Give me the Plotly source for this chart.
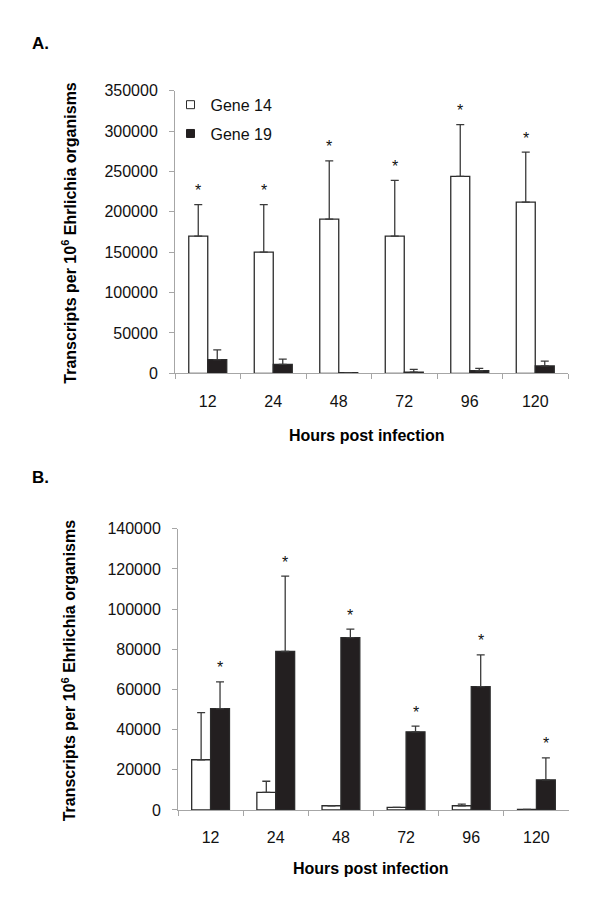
import plotly.graph_objects as go

hours = ["12", "24", "48", "72", "96", "120"]

# Panel A
a_gene14 = [170000, 150000, 191000, 170000, 244000, 212000]
a_gene14_err = [39000, 59000, 72000, 69000, 64000, 62000]
a_gene19 = [17000, 11000, 800, 1500, 3200, 9200]
a_gene19_err = [12000, 6700, 0, 3400, 2900, 5800]

# Panel B
b_gene14 = [25000, 8800, 2100, 1300, 2100, 300]
b_gene14_err = [23500, 5500, 0, 0, 800, 0]
b_gene19 = [50500, 78900, 85800, 38900, 61400, 15000]
b_gene19_err = [13300, 37500, 4200, 2800, 15800, 10900]

FONT = "Liberation Sans, Arial, sans-serif"
DARK = "#231f20"
EDGE = "#2b2b2b"
AXIS = "#a6a6a6"

W, H = 600, 907


def px(x):
    return x / W


def py(y):
    return 1 - y / H


fig = go.Figure()


def add_bars(vals, errs, fill, name, xa, ya):
    fig.add_trace(go.Bar(
        x=hours, y=vals, name=name, showlegend=False,
        marker=dict(color=fill, line=dict(color=EDGE, width=1.3)),
        error_y=dict(type="data", array=errs, arrayminus=[0] * len(errs),
                     symmetric=False, color="#3a3a3a", thickness=1.3, width=4),
        xaxis=xa, yaxis=ya,
    ))


add_bars(a_gene14, a_gene14_err, "white", "Gene 14", "x", "y")
add_bars(a_gene19, a_gene19_err, DARK, "Gene 19", "x", "y")
add_bars(b_gene14, b_gene14_err, "white", "Gene 14", "x2", "y2")
add_bars(b_gene19, b_gene19_err, DARK, "Gene 19", "x2", "y2")

# legend entries (small square symbols like the original)
fig.add_trace(go.Scatter(x=[None], y=[None], mode="markers", name="Gene 14",
                         legendgroup="g14",
                         marker=dict(symbol="square", size=8, color="white",
                                     line=dict(color=EDGE, width=1))))
fig.add_trace(go.Scatter(x=[None], y=[None], mode="markers", name="Gene 19",
                         legendgroup="g19",
                         marker=dict(symbol="square", size=8, color=DARK,
                                     line=dict(color=DARK, width=1))))

off = 0.145
annotations = []
for i in range(len(hours)):
    annotations.append(dict(x=i - off, y=a_gene14[i] + a_gene14_err[i], xref="x", yref="y",
                            text="*", showarrow=False, yanchor="middle", yshift=14,
                            font=dict(family=FONT, size=16, color="#111")))
    annotations.append(dict(x=i + off, y=b_gene19[i] + b_gene19_err[i], xref="x2", yref="y2",
                            text="*", showarrow=False, yanchor="middle", yshift=14,
                            font=dict(family=FONT, size=16, color="#111")))

ytitle = "Transcripts per 10<sup>6</sup> Ehrlichia organisms"
annotations += [
    dict(x=px(30), y=py(36), xref="paper", yref="paper", text="<b>A.</b>",
         showarrow=False, xanchor="left", yanchor="middle",
         font=dict(family=FONT, size=17, color="black")),
    dict(x=px(30), y=py(478), xref="paper", yref="paper", text="<b>B.</b>",
         showarrow=False, xanchor="left", yanchor="middle",
         font=dict(family=FONT, size=17, color="black")),
    dict(x=px(69), y=py(229), xref="paper", yref="paper", text="<b>" + ytitle + "</b>",
         showarrow=False, textangle=-90, xanchor="center", yanchor="middle",
         font=dict(family=FONT, size=16, color="black")),
    dict(x=px(69), y=py(675), xref="paper", yref="paper", text="<b>" + ytitle + "</b>",
         showarrow=False, textangle=-90, xanchor="center", yanchor="middle",
         font=dict(family=FONT, size=16, color="black")),
    dict(x=px(367), y=py(436), xref="paper", yref="paper", text="<b>Hours post infection</b>",
         showarrow=False, xanchor="center", yanchor="middle",
         font=dict(family=FONT, size=16, color="black")),
    dict(x=px(371), y=py(877), xref="paper", yref="paper", text="<b>Hours post infection</b>",
         showarrow=False, xanchor="center", yanchor="middle",
         font=dict(family=FONT, size=16, color="black")),
]

xcommon = dict(type="category", range=[-0.5, 5.5], showline=True, linecolor=AXIS, linewidth=1,
               ticks="outside", tickson="boundaries", ticklen=5, tickcolor=AXIS,
               showgrid=False, zeroline=False, ticklabelstandoff=13,
               tickfont=dict(family=FONT, size=16, color="#111"))
ycommon = dict(showline=True, linecolor=AXIS, linewidth=1, ticks="outside", ticklen=5,
               tickcolor=AXIS, showgrid=False, zeroline=False, ticklabelstandoff=8,
               tickfont=dict(family=FONT, size=16, color="#111"), tickformat="d")

fig.update_layout(
    width=W, height=H,
    margin=dict(l=0, r=0, t=0, b=0),
    paper_bgcolor="white", plot_bgcolor="white",
    barmode="group", bargap=0.42, bargroupgap=0,
    xaxis=dict(domain=[px(175), px(568)], anchor="y", **xcommon),
    yaxis=dict(domain=[py(372.3), py(84.3)], anchor="x",
               range=[0, 350000], dtick=50000, **ycommon),
    xaxis2=dict(domain=[px(178), px(569)], anchor="y2", **xcommon),
    yaxis2=dict(domain=[py(817.3), py(530.7)], anchor="x2",
                range=[0, 140000], dtick=20000, **ycommon),
    showlegend=True,
    legend=dict(x=px(170.5), y=py(81.3), xanchor="left", yanchor="top",
                bgcolor="rgba(0,0,0,0)", tracegroupgap=5,
                font=dict(family=FONT, size=16, color="#111")),
    annotations=annotations,
)

fig.write_html(
    "out.html",
    config={"displayModeBar": False},
    post_script=("document.body.style.margin='0';"
                 "document.body.style.padding='0';"
                 "document.documentElement.style.overflow='hidden';"),
)
